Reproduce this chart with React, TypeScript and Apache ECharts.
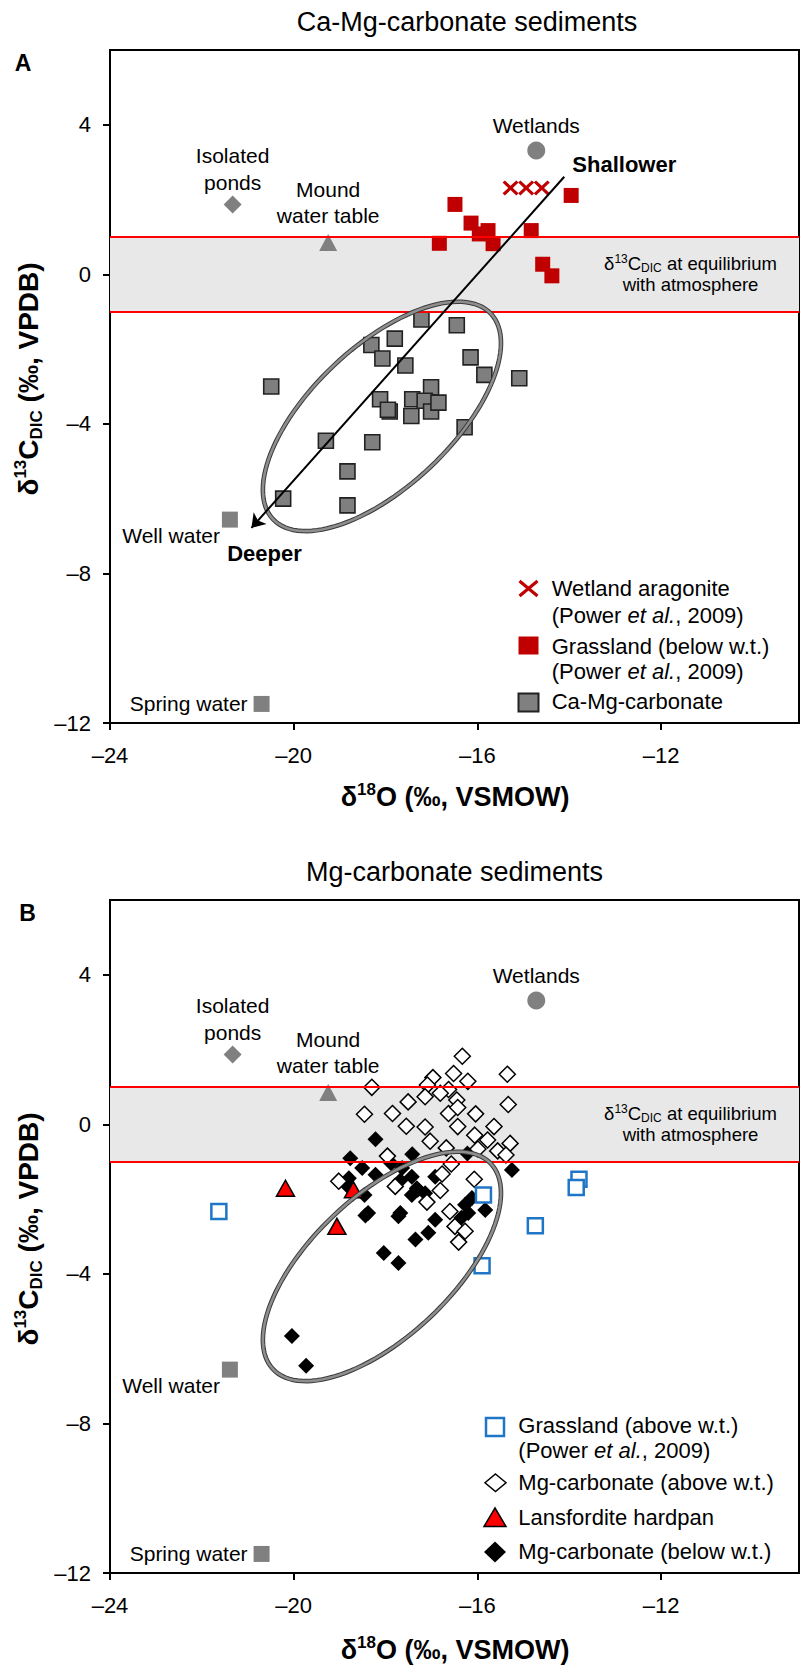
import React, { useEffect, useRef } from 'react';
import * as echarts from 'echarts';

const FONT = '"Liberation Sans", Arial, Helvetica, sans-serif';

// ---- axes ----
const xTicks = [-24, -20, -16, -12];
const yTicks = [-12, -8, -4, 0, 4];
const xExtent = [-24, -9];
const yExtent = [-12, 6];

// ---- reference waters (both panels) ----
const referenceNames = ['Isolated\nponds', 'Mound\nwater table', 'Wetlands', 'Well water', 'Spring water'];
const referencePoints = [[-21.33, 1.87], [-19.25, 0.85], [-14.72, 3.31], [-21.39, -6.56], [-20.7, -11.49]];
const equilibriumBand = [-1, 1];

// ---- panel A ----
const wetlandAragonite = [[-15.28, 2.31], [-14.94, 2.31], [-14.6, 2.31]];
const grasslandBelow = [
  [-16.49, 1.87], [-16.14, 1.37], [-15.96, 1.08], [-15.77, 1.17], [-15.66, 0.82],
  [-16.83, 0.83], [-14.83, 1.17], [-14.58, 0.27], [-14.38, -0.04], [-13.96, 2.11],
];
const caMgCarbonate = [
  [-17.22, -1.21], [-16.45, -1.36], [-18.31, -1.89], [-17.8, -1.72], [-18.07, -2.25],
  [-17.57, -2.44], [-16.15, -2.22], [-15.85, -2.69], [-15.09, -2.78], [-20.49, -3.0],
  [-17.01, -3.02], [-18.12, -3.34], [-17.91, -3.67], [-17.95, -3.62], [-17.42, -3.34],
  [-17.44, -3.79], [-17.15, -3.38], [-17.01, -3.67], [-16.85, -3.43], [-16.28, -4.09],
  [-19.3, -4.45], [-18.29, -4.49], [-18.83, -5.27], [-20.23, -6.0], [-18.83, -6.18],
];
const trendNames = ['Shallower', 'Deeper'];
const trendEnds = [[-14.11, 2.61], [-20.92, -6.78]];
const ellipseCenter = [-18.08, -3.8];
const ellipseMajor = [2.37, 2.75];
const ellipseMinor = [1.05, -1.36];

// ---- panel B ----
const grasslandAbove = [[-21.63, -2.33], [-15.87, -1.89], [-13.79, -1.47], [-13.85, -1.69], [-14.74, -2.71], [-15.9, -3.78]];
const lansforditeHardpan = [[-20.18, -1.71], [-18.7, -1.75], [-19.06, -2.73]];
const mgCarbonateAbove = [
  [-16.33, 1.82], [-15.35, 1.34], [-16.97, 1.25], [-16.52, 1.36], [-16.21, 1.15], [-18.3, 0.99],
  [-17.09, 1.05], [-16.63, 0.93], [-17.14, 0.74], [-16.81, 0.83], [-16.45, 0.65], [-17.51, 0.6],
  [-15.33, 0.53], [-18.46, 0.27], [-17.85, 0.29], [-16.63, 0.29], [-16.43, 0.45], [-16.04, 0.28],
  [-17.55, -0.05], [-17.14, -0.07], [-16.43, -0.06], [-15.64, -0.06], [-17.03, -0.45], [-16.06, -0.29],
  [-15.78, -0.42], [-15.29, -0.51], [-16.68, -0.63], [-15.56, -0.71], [-15.38, -0.82], [-15.99, -0.66],
  [-17.96, -0.85], [-16.57, -1.06], [-16.77, -1.33], [-19.02, -1.52], [-17.79, -1.66], [-16.81, -1.77],
  [-16.07, -1.47], [-17.1, -2.08], [-16.6, -2.33], [-16.49, -2.73], [-16.27, -2.86], [-16.41, -3.15],
];
const mgCarbonateBelow = [
  [-18.22, -0.4], [-18.77, -0.91], [-16.22, -0.78], [-17.42, -0.8], [-17.88, -1.04], [-18.51, -1.17],
  [-18.22, -1.35], [-18.8, -1.44], [-18.85, -1.62], [-18.46, -1.89], [-18.38, -2.37], [-18.44, -2.44],
  [-17.64, -1.17], [-17.43, -1.4], [-17.32, -1.71], [-17.14, -1.84], [-17.43, -1.89], [-17.68, -2.37],
  [-17.72, -2.46], [-16.92, -1.4], [-16.92, -2.55], [-16.27, -2.15], [-16.12, -1.97], [-15.83, -2.29],
  [-16.2, -2.37], [-16.35, -2.5], [-15.25, -1.22], [-17.35, -3.08], [-17.07, -2.9], [-18.04, -3.44],
  [-17.72, -3.71], [-20.04, -5.66], [-19.73, -6.46], [-17.68, -1.5], [-17.3, -1.75],
];

// ---- styling / layout (not data) ----
const PANEL_TOPS = [50, 900];
const refSymbols = ['diamond', 'triangle', 'circle', 'rect', 'rect'];
const refSizes: any[] = [18, [18, 17], 18, 16, 16];
const refLabelLayout: any[] = [
  { position: 'top', distance: 0 },
  { position: 'top', distance: 5 },
  { position: 'top', distance: 3 },
  { position: 'left', distance: 2, offset: [0, 16] },
  { position: 'left', distance: 6 },
];
const X_PATH = 'path://M0,2.3 L2.3,0 L8,5.7 L13.7,0 L16,2.3 L10.3,8 L16,13.7 L13.7,16 L8,10.3 L2.3,16 L0,13.7 L5.7,8 Z';

const fmt = (v: number) => (v < 0 ? '\u2013' + Math.abs(v) : String(v));

const richSmall = {
  n: { fontSize: 18.5, fontFamily: FONT, color: '#000', lineHeight: 21 },
  sup: { fontSize: 12, fontFamily: FONT, color: '#000', verticalAlign: 'top' },
  sub: { fontSize: 12, fontFamily: FONT, color: '#000', verticalAlign: 'bottom' },
};
const richLabel = {
  t: { fontSize: 21, lineHeight: 26.5, fontFamily: FONT, color: '#000' },
  bt: { fontSize: 22, fontWeight: 'bold', fontFamily: FONT, color: '#000' },
};
const wrapRich = (style: string, s: string) => s.split('\n').map((line) => `{${style}|${line}}`).join('\n');

function bandSeries(gi: number) {
  return {
    name: 'Equilibrium band', type: 'scatter', xAxisIndex: gi, yAxisIndex: gi, data: [], z: 1, silent: true,
    markArea: {
      silent: true,
      itemStyle: { color: '#e8e8e8', opacity: 1 },
      label: {
        show: true, position: 'insideRight', distance: 108.5, align: 'center', verticalAlign: 'middle',
        formatter: '{n|\u03b4}{sup|13}{n|C}{sub|DIC}{n| at equilibrium}\n{n|with atmosphere}',
        rich: richSmall,
      },
      data: [[{ yAxis: equilibriumBand[0] }, { yAxis: equilibriumBand[1] }]],
    },
    markLine: {
      silent: true, symbol: ['none', 'none'], label: { show: false },
      lineStyle: { color: '#ff0000', width: 2.2, type: 'solid', opacity: 1 },
      emphasis: { disabled: true },
      data: equilibriumBand.map((v) => ({ yAxis: v })),
    },
  };
}

function refSeries(gi: number) {
  return {
    name: 'Reference waters', type: 'scatter', xAxisIndex: gi, yAxisIndex: gi, z: 2, silent: true,
    itemStyle: { color: '#808080', opacity: 1 },
    label: { show: true, color: '#000', rich: richLabel },
    data: referencePoints.map((p, k) => ({
      value: p,
      name: referenceNames[k],
      symbol: refSymbols[k],
      symbolSize: refSizes[k],
      label: {
        show: true, formatter: wrapRich('t', referenceNames[k]), color: '#000', rich: richLabel,
        ...refLabelLayout[k],
      },
    })),
  };
}

function ellipseSeries(gi: number) {
  return {
    name: 'Ellipse', type: 'custom', xAxisIndex: gi, yAxisIndex: gi, z: 8, silent: true, clip: false,
    data: [ellipseCenter],
    renderItem: (_params: any, api: any) => {
      const cx = api.value(0);
      const cy = api.value(1);
      const pts: number[][] = [];
      const n = 120;
      for (let k = 0; k < n; k++) {
        const t = (k / n) * Math.PI * 2;
        const c = Math.cos(t);
        const s = Math.sin(t);
        pts.push(api.coord([cx + c * ellipseMajor[0] + s * ellipseMinor[0], cy + c * ellipseMajor[1] + s * ellipseMinor[1]]));
      }
      return {
        type: 'group',
        children: [
          { type: 'polygon', shape: { points: pts }, style: { fill: 'none', stroke: '#3a3a3a', lineWidth: 4.6 } },
          { type: 'polygon', shape: { points: pts }, style: { fill: 'none', stroke: '#8e8e8e', lineWidth: 2.6 } },
        ],
      };
    },
  };
}

const richLegend = {
  n: { fontSize: 22, fontFamily: FONT, fill: '#000', color: '#000' },
  i: { fontSize: 22, fontFamily: FONT, fontStyle: 'italic', fill: '#000', color: '#000' },
};
const POWER = '{n|(Power }{i|et al.}{n|, 2009)}';
function ltext(x: number, y: number, text: string) {
  return {
    type: 'text', x, y, z: 20,
    style: { text, rich: richLegend, fontSize: 22, fontFamily: FONT, fill: '#000', align: 'left', verticalAlign: 'middle' },
  };
}
function plainText(x: number, y: number, text: string, fontSize: number, bold: boolean) {
  return {
    type: 'text', x, y, z: 20,
    style: { text, fontSize, fontFamily: FONT, fontWeight: bold ? 'bold' : 'normal', fill: '#000', align: 'center', verticalAlign: 'middle' },
  };
}
const richTitle = (size: number, small: number) => ({
  b: { fontSize: size, fontWeight: 'bold', fontFamily: FONT, fill: '#000', color: '#000', lineHeight: size + 5 },
  sup: { fontSize: small, fontWeight: 'bold', fontFamily: FONT, fill: '#000', color: '#000', verticalAlign: 'top' },
  sub: { fontSize: small, fontWeight: 'bold', fontFamily: FONT, fill: '#000', color: '#000', verticalAlign: 'bottom' },
});
function xTitle(y: number) {
  return {
    type: 'text', x: 455, y, z: 20,
    style: { text: '{b|\u03b4}{sup|18}{b|O (\u2030, VSMOW)}', rich: richTitle(27, 17), align: 'center', verticalAlign: 'middle' },
  };
}
function yTitle(y: number) {
  return {
    type: 'text', x: 28, y, rotation: Math.PI / 2, z: 20,
    style: { text: '{b|\u03b4}{sup|13}{b|C}{sub|DIC}{b| (\u2030, VPDB)}', rich: richTitle(28, 17), align: 'center', verticalAlign: 'middle' },
  };
}

function buildOption() {
  const grid = PANEL_TOPS.map((top) => ({
    left: 110, top, width: 689, height: 673, show: true, borderColor: '#000', borderWidth: 2,
    backgroundColor: 'transparent', containLabel: false, outerBoundsMode: 'none',
  }));
  const xAxis = [0, 1].map((i) => ({
    gridIndex: i, type: 'value', min: xExtent[0], max: xExtent[1], interval: 4,
    axisLine: { show: true, onZero: false, lineStyle: { color: '#000', width: 2 } },
    axisTick: { show: true, inside: false, length: 7, lineStyle: { color: '#000', width: 2 }, customValues: xTicks },
    axisLabel: { show: true, customValues: xTicks, formatter: fmt, margin: 21, fontSize: 22, fontFamily: FONT, color: '#000', showMinLabel: true, showMaxLabel: true },
    splitLine: { show: false },
  }));
  const yAxis = [0, 1].map((i) => ({
    gridIndex: i, type: 'value', min: yExtent[0], max: yExtent[1], interval: 4,
    axisLine: { show: true, onZero: false, lineStyle: { color: '#000', width: 2 } },
    axisTick: { show: true, inside: false, length: 7, lineStyle: { color: '#000', width: 2 }, customValues: yTicks },
    axisLabel: { show: true, customValues: yTicks, formatter: fmt, margin: 19, fontSize: 22, fontFamily: FONT, color: '#000', showMinLabel: true, showMaxLabel: true },
    splitLine: { show: false },
  }));

  const series: any[] = [
    // ----- panel A -----
    bandSeries(0),
    refSeries(0),
    {
      name: 'Ca-Mg-carbonate', type: 'scatter', xAxisIndex: 0, yAxisIndex: 0, z: 3, data: caMgCarbonate,
      symbol: 'rect', symbolSize: 15, itemStyle: { color: '#7f7f7f', borderColor: '#222', borderWidth: 1.6, opacity: 1 },
    },
    {
      name: 'Grassland (below w.t.) (Power et al., 2009)', type: 'scatter', xAxisIndex: 0, yAxisIndex: 0, z: 4,
      data: grasslandBelow, symbol: 'rect', symbolSize: 15, itemStyle: { color: '#c00000', opacity: 1 },
    },
    {
      name: 'Wetland aragonite (Power et al., 2009)', type: 'scatter', xAxisIndex: 0, yAxisIndex: 0, z: 5,
      data: wetlandAragonite, symbol: X_PATH, symbolSize: [16, 15], itemStyle: { color: '#c00000', opacity: 1 },
    },
    ellipseSeries(0),
    {
      name: 'Trend', type: 'lines', coordinateSystem: 'cartesian2d', xAxisIndex: 0, yAxisIndex: 0, z: 9, silent: true,
      symbol: ['none', 'arrow'], symbolSize: 13,
      itemStyle: { color: '#000', opacity: 1 },
      lineStyle: { color: '#000', width: 2, opacity: 1, curveness: 0 },
      data: [{ coords: [trendEnds[0], trendEnds[1]] }],
    },
    {
      name: 'Trend labels', type: 'scatter', xAxisIndex: 0, yAxisIndex: 0, z: 9, silent: true,
      symbolSize: 0.1, itemStyle: { color: 'rgba(0,0,0,0)', opacity: 1 },
      label: { show: true, color: '#000', rich: richLabel },
      data: trendEnds.map((p, k) => ({
        value: p,
        name: trendNames[k],
        label: {
          show: true, formatter: wrapRich('bt', trendNames[k]), color: '#000', rich: richLabel,
          ...(k === 0 ? { position: 'right', distance: 8, offset: [0, -12] } : { position: 'bottom', distance: 15, offset: [13, 0] }),
        },
      })),
    },
    // ----- panel B -----
    bandSeries(1),
    refSeries(1),
    {
      name: 'Mg-carbonate (below w.t.)', type: 'scatter', xAxisIndex: 1, yAxisIndex: 1, z: 3,
      data: mgCarbonateBelow, symbol: 'diamond', symbolSize: 16, itemStyle: { color: '#000', opacity: 1 },
    },
    {
      name: 'Mg-carbonate (above w.t.)', type: 'scatter', xAxisIndex: 1, yAxisIndex: 1, z: 4,
      data: mgCarbonateAbove, symbol: 'diamond', symbolSize: 16, itemStyle: { color: '#fff', borderColor: '#000', borderWidth: 1.5, opacity: 1 },
    },
    {
      name: 'Grassland (above w.t.) (Power et al., 2009)', type: 'scatter', xAxisIndex: 1, yAxisIndex: 1, z: 5,
      data: grasslandAbove, symbol: 'rect', symbolSize: 15, itemStyle: { color: '#fff', borderColor: '#1f76c6', borderWidth: 2.5, opacity: 1 },
    },
    {
      name: 'Lansfordite hardpan', type: 'scatter', xAxisIndex: 1, yAxisIndex: 1, z: 6,
      data: lansforditeHardpan, symbol: 'triangle', symbolSize: [18, 16], itemStyle: { color: '#ff0000', borderColor: '#000', borderWidth: 1.5, opacity: 1 },
    },
    ellipseSeries(1),
  ];

  const graphic: any[] = [
    plainText(467, 22, 'Ca-Mg-carbonate sediments', 27, false),
    plainText(454.5, 872, 'Mg-carbonate sediments', 27, false),
    plainText(23, 63, 'A', 23, true),
    plainText(27.5, 913, 'B', 23, true),
    xTitle(797),
    xTitle(1650),
    yTitle(379),
    yTitle(1229),
    // legend A
    { type: 'line', z: 20, shape: { x1: 519.5, y1: 581, x2: 537.5, y2: 596 }, style: { stroke: '#c00000', lineWidth: 3.2 } },
    { type: 'line', z: 20, shape: { x1: 537.5, y1: 581, x2: 519.5, y2: 596 }, style: { stroke: '#c00000', lineWidth: 3.2 } },
    ltext(551.7, 588.3, '{n|Wetland aragonite}'),
    ltext(551.7, 615, POWER),
    { type: 'rect', z: 20, shape: { x: 518.5, y: 636.5, width: 20, height: 18 }, style: { fill: '#c00000' } },
    ltext(551.7, 646, '{n|Grassland (below w.t.)}'),
    ltext(551.7, 671.7, POWER),
    { type: 'rect', z: 20, shape: { x: 518.5, y: 693.5, width: 20, height: 18 }, style: { fill: '#808080', stroke: '#222', lineWidth: 2 } },
    ltext(551.7, 701.7, '{n|Ca-Mg-carbonate}'),
    // legend B
    { type: 'rect', z: 20, shape: { x: 486, y: 1418, width: 18, height: 18 }, style: { fill: '#fff', stroke: '#1f76c6', lineWidth: 2.5 } },
    ltext(518.3, 1425, '{n|Grassland (above w.t.)}'),
    ltext(518.3, 1450, POWER),
    { type: 'polygon', z: 20, shape: { points: [[495.5, 1474], [506, 1482.8], [495.5, 1491.6], [485, 1482.8]] }, style: { fill: '#fff', stroke: '#000', lineWidth: 1.5 } },
    ltext(518.3, 1482.7, '{n|Mg-carbonate (above w.t.)}'),
    { type: 'polygon', z: 20, shape: { points: [[495, 1508], [506, 1526.5], [484, 1526.5]] }, style: { fill: '#ff0000', stroke: '#000', lineWidth: 1.5 } },
    ltext(518.3, 1517.3, '{n|Lansfordite hardpan}'),
    { type: 'polygon', z: 20, shape: { points: [[495, 1541.5], [506, 1552], [495, 1562.5], [484, 1552]] }, style: { fill: '#000' } },
    ltext(518.3, 1551.7, '{n|Mg-carbonate (below w.t.)}'),
  ];

  return {
    animation: false,
    backgroundColor: '#fff',
    textStyle: { fontFamily: FONT },
    grid,
    xAxis,
    yAxis,
    series,
    graphic,
  };
}

export default function App() {
  const ref = useRef<HTMLDivElement>(null);
  useEffect(() => {
    if (!ref.current) return;
    const chart = echarts.init(ref.current, null, { renderer: 'svg' });
    chart.setOption(buildOption() as any);
    return () => chart.dispose();
  }, []);
  return <div ref={ref} style={{ position: 'absolute', left: 0, top: 0, width: 801, height: 1667 }} />;
}
